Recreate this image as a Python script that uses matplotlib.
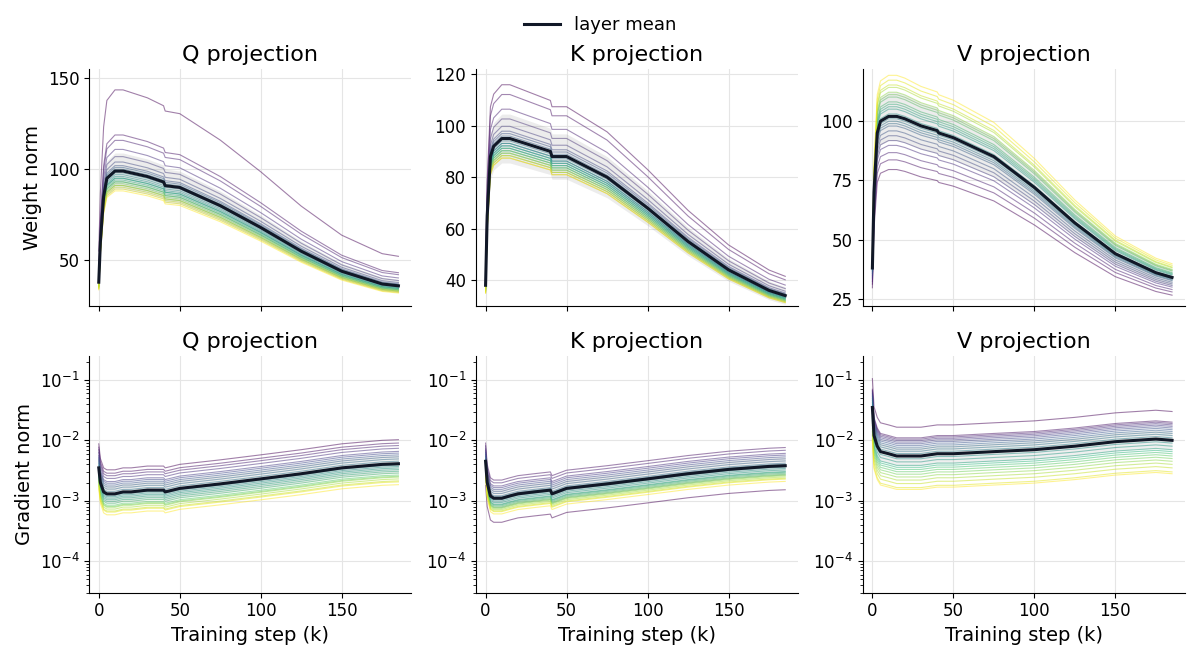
import numpy as np
import matplotlib
matplotlib.use("Agg")
import matplotlib.pyplot as plt

steps = [0, 1, 3, 5, 10, 15, 20, 30, 40, 41, 50, 75, 100, 125, 150, 175, 185]

w_q_mean = [38, 60, 85, 95, 99, 99, 98, 96, 93, 91, 90, 80, 68, 55, 44, 37, 36]
w_k_mean = [38, 65, 88, 92, 95, 95, 94, 92, 90, 88, 88, 80, 68, 55, 44, 36, 34]
w_v_mean = [38, 70, 95, 100, 102, 102, 101, 98, 96, 95, 93, 85, 72, 57, 44, 36, 34]

g_q_mean = [3.5e-3, 2e-3, 1.4e-3, 1.3e-3, 1.3e-3, 1.4e-3, 1.4e-3, 1.5e-3, 1.5e-3, 1.4e-3,
            1.6e-3, 1.9e-3, 2.3e-3, 2.8e-3, 3.5e-3, 4.0e-3, 4.1e-3]
g_k_mean = [4.5e-3, 2e-3, 1.2e-3, 1.1e-3, 1.1e-3, 1.2e-3, 1.3e-3, 1.4e-3, 1.5e-3, 1.3e-3,
            1.6e-3, 1.9e-3, 2.3e-3, 2.8e-3, 3.3e-3, 3.7e-3, 3.8e-3]
g_v_mean = [3.5e-2, 1.2e-2, 8e-3, 6.5e-3, 6e-3, 5.5e-3, 5.5e-3, 5.5e-3, 6e-3, 6e-3,
            6e-3, 6.5e-3, 7e-3, 8e-3, 9.5e-3, 1.05e-2, 1.0e-2]

w_q_layers = [1.45, 1.2, 1.17, 1.12, 1.08, 1.05, 1.03, 1.02, 1.01, 1.0, 0.99, 0.98,
              0.97, 0.96, 0.96, 0.95, 0.94, 0.94, 0.93, 0.92, 0.92, 0.91, 0.9, 0.89]
w_k_layers = [1.22, 1.18, 1.12, 1.08, 1.05, 1.03, 1.02, 1.01, 1.0, 0.99, 0.98, 0.98,
              0.97, 0.97, 0.96, 0.96, 0.95, 0.95, 0.94, 0.94, 0.93, 0.93, 0.92, 0.92]
w_v_layers = [0.78, 0.82, 0.85, 0.88, 0.9, 0.92, 0.94, 0.96, 0.97, 0.98, 0.99, 1.0,
              1.01, 1.03, 1.04, 1.05, 1.06, 1.08, 1.09, 1.1, 1.12, 1.13, 1.15, 1.17]
g_q_layers = [2.5, 2.2, 2.0, 1.8, 1.6, 1.5, 1.4, 1.3, 1.2, 1.1, 1.0, 0.95,
              0.9, 0.85, 0.8, 0.75, 0.7, 0.65, 0.62, 0.6, 0.56, 0.52, 0.5, 0.45]
g_k_layers = [0.4, 2.0, 1.8, 1.6, 1.5, 1.4, 1.3, 1.2, 1.1, 1.05, 1.0, 0.95,
              0.9, 0.85, 0.8, 0.78, 0.75, 0.72, 0.7, 0.68, 0.65, 0.62, 0.6, 0.55]
g_v_layers = [3.0, 2.0, 1.9, 1.8, 1.7, 1.6, 1.5, 1.4, 1.3, 1.2, 1.1, 1.0,
              0.9, 0.8, 0.7, 0.65, 0.6, 0.55, 0.5, 0.45, 0.4, 0.35, 0.3, 0.28]

titles = ["Q projection", "K projection", "V projection"]
w_means = [w_q_mean, w_k_mean, w_v_mean]
g_means = [g_q_mean, g_k_mean, g_v_mean]
w_layers = [w_q_layers, w_k_layers, w_v_layers]
g_layers = [g_q_layers, g_k_layers, g_v_layers]
w_ylims = [(25, 155), (30, 122), (22, 122)]
w_ticks = [[50, 100, 150], [40, 60, 80, 100, 120], [25, 50, 75, 100]]

plt.rcParams['font.family'] = ['DejaVu Sans']
fig, axes = plt.subplots(2, 3, figsize=(12, 6.6), dpi=100, sharex='col')
cmap = plt.get_cmap('viridis')
x = np.array(steps)
line = None
for c in range(3):
    for r, (means, layers) in enumerate([(w_means, w_layers), (g_means, g_layers)]):
        ax = axes[r, c]
        m = np.array(means[c])
        f = np.array(layers[c])
        n = len(f)
        for i in range(n):
            ax.plot(x, m * f[i], color=cmap(i / (n - 1)), lw=0.8, alpha=0.5)
        if r == 0:
            ax.fill_between(x, m * 0.9, m * 1.1, color='grey', alpha=0.15, lw=0, zorder=3)
        else:
            ax.fill_between(x, m * 0.7, m * 1.4, color='grey', alpha=0.12, lw=0, zorder=3)
        line, = ax.plot(x, m, color='#111827', lw=2.2, label='layer mean', zorder=4)
        ax.set_title(titles[c], fontsize=16)
        ax.spines['top'].set_visible(False)
        ax.spines['right'].set_visible(False)
        ax.grid(True, color='#e5e5e5', lw=0.8)
        ax.tick_params(labelsize=12)
        ax.set_xlim(-6, 193)
        if r == 0:
            ax.set_ylim(*w_ylims[c])
            ax.set_yticks(w_ticks[c])
        else:
            ax.set_yscale('log')
            ax.set_ylim(3e-5, 2.5e-1)
            ax.set_xticks([0, 50, 100, 150])
            ax.set_xlabel("Training step (k)", fontsize=14)
axes[0, 0].set_ylabel("Weight norm", fontsize=14)
axes[1, 0].set_ylabel("Gradient norm", fontsize=14)
fig.legend([line], ["layer mean"], loc='upper center', bbox_to_anchor=(0.5, 1.0),
           frameon=False, fontsize=13)
fig.tight_layout(rect=[0, 0, 1, 0.955], h_pad=1.5)
fig.savefig("out.png", dpi=100)
